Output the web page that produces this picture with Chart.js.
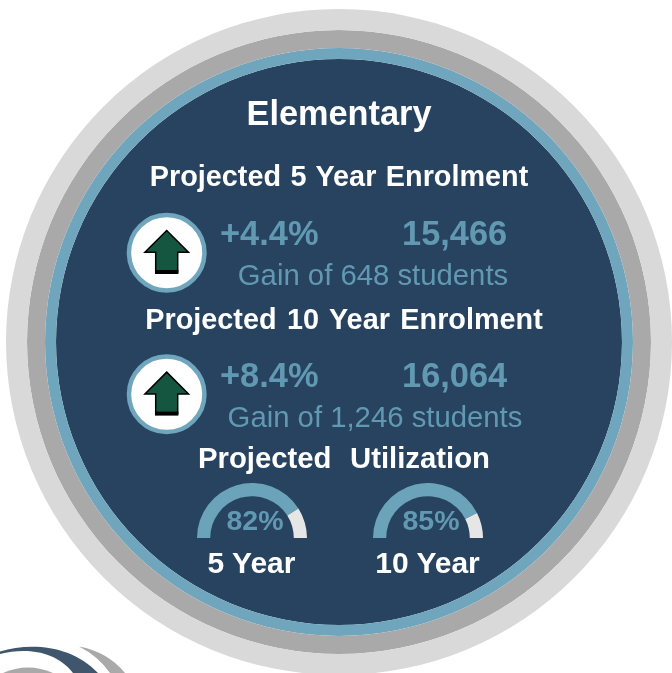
<!DOCTYPE html>
<html>
<head>
<meta charset="utf-8">
<title>Elementary</title>
<script src="https://cdn.jsdelivr.net/npm/chart.js@4"></script>
<style>
  html, body { margin: 0; padding: 0; background: #fff; overflow: hidden; width: 672px; height: 673px; }
  body { position: relative; font-family: "Liberation Sans", Arial, sans-serif; }
  canvas { position: absolute; }
  svg { position: absolute; left: 0; top: 0; }
  .t { position: absolute; white-space: nowrap; line-height: 1; }
  .c { transform: translateX(-50%); }
  .w { color: #fff; font-weight: bold; }
  .b { color: #6199b3; }
  .big { font-weight: bold; font-size: 34.4px; }
  .gain { font-size: 29.3px; }
  .head { font-size: 28.8px; }
</style>
</head>
<body>
<canvas id="rings" width="666" height="666" style="left:6px;top:9px"></canvas>

<svg width="672" height="673">
  <!-- logo cut off by the bottom edge -->
  <path d="M0 651.5 C30 642 72 645 98 673 L73 673 C55 650 25 648 0 654 Z" fill="#3f566d"/>
  <path d="M3 673 Q28 662 53 673 Z" fill="#a9a9a9"/>
  <path d="M79 646.5 Q108 652 125 673 L110 673 Q98 656 79 646.5 Z" fill="#a9a9a9"/>
  <g id="icon">
    <circle cx="166.7" cy="252.7" r="37.75" fill="#fff" stroke="#6fa6bd" stroke-width="4.5"/>
    <path d="M166.7 230.5 L188.5 252.3 L177.7 252.3 L177.7 272 L155.7 272 L155.7 252.3 L144.9 252.3 Z" fill="#14563f" stroke="#000" stroke-width="1.5"/>
    <rect x="155" y="270" width="23.4" height="4" fill="#000"/>
  </g>
  <use href="#icon" y="141.6"/>
</svg>

<canvas id="gauge5" width="110" height="55" style="left:197px;top:483px"></canvas>
<canvas id="gauge10" width="110" height="55" style="left:373px;top:483px"></canvas>

<div class="t c w" style="left:339px;top:96px;font-size:34.3px">Elementary</div>
<div class="t c w head" style="left:339px;top:162px;word-spacing:1.5px">Projected 5 Year Enrolment</div>
<div class="t b big" id="pct5" style="left:220px;top:216px"></div>
<div class="t b big" id="count5" style="left:402px;top:216px"></div>
<div class="t c b gain" id="gain5" style="left:373px;top:260px"></div>
<div class="t c w head" style="left:344px;top:305px;word-spacing:2.5px">Projected 10 Year Enrolment</div>
<div class="t b big" id="pct10" style="left:220px;top:358px"></div>
<div class="t b big" id="count10" style="left:402px;top:358px"></div>
<div class="t c b gain" id="gain10" style="left:375px;top:402px"></div>
<div class="t w" style="left:198px;top:443px;font-size:29.3px">Projected</div>
<div class="t w" style="left:350px;top:443px;font-size:29.3px">Utilization</div>
<div class="t c b" id="label5" style="left:255px;top:506px;font-size:28.5px;font-weight:bold"></div>
<div class="t c b" id="label10" style="left:431px;top:506px;font-size:28.5px;font-weight:bold"></div>
<div class="t c w" id="year5" style="left:251.5px;top:548px;font-size:30px"></div>
<div class="t c w" id="year10" style="left:427.5px;top:548px;font-size:30px"></div>

<script>
let years = ["5 Year", "10 Year"];
let percentChange = ["+4.4%", "+8.4%"];
let enrolment = ["15,466", "16,064"];
let studentGain = ["648", "1,246"];
let utilization = [82, 85];

// rings from the outside in, weight is the band thickness
let ringColors = ["#d9d9d9", "#a9a9a9", "#6fa6bd", "#27435f"];
let ringWeights = [21, 18, 11, 283];

function showRings() {
  new Chart(document.getElementById("rings"), {
    type: "doughnut",
    data: {
      datasets: ringColors.map(function(color, i) {
        return { data: [100], backgroundColor: color, borderWidth: 0, weight: ringWeights[i] };
      })
    },
    options: {
      responsive: false,
      animation: false,
      cutout: 0,
      plugins: { legend: { display: false }, tooltip: { enabled: false } }
    }
  });
}

function showGauge(id, value) {
  new Chart(document.getElementById(id), {
    type: "doughnut",
    data: {
      datasets: [{
        data: [value, 100 - value],
        backgroundColor: ["#6ba3ba", "#e6e6e6"],
        borderWidth: 0
      }]
    },
    options: {
      responsive: false,
      animation: false,
      rotation: -90,
      circumference: 180,
      cutout: "76%",
      plugins: { legend: { display: false }, tooltip: { enabled: false } }
    }
  });
}

document.getElementById("pct5").textContent = percentChange[0];
document.getElementById("pct10").textContent = percentChange[1];
document.getElementById("count5").textContent = enrolment[0];
document.getElementById("count10").textContent = enrolment[1];
document.getElementById("gain5").textContent = "Gain of " + studentGain[0] + " students";
document.getElementById("gain10").textContent = "Gain of " + studentGain[1] + " students";
document.getElementById("label5").textContent = utilization[0] + "%";
document.getElementById("label10").textContent = utilization[1] + "%";
document.getElementById("year5").textContent = years[0];
document.getElementById("year10").textContent = years[1];

showRings();
showGauge("gauge5", utilization[0]);
showGauge("gauge10", utilization[1]);
</script>
</body>
</html>
